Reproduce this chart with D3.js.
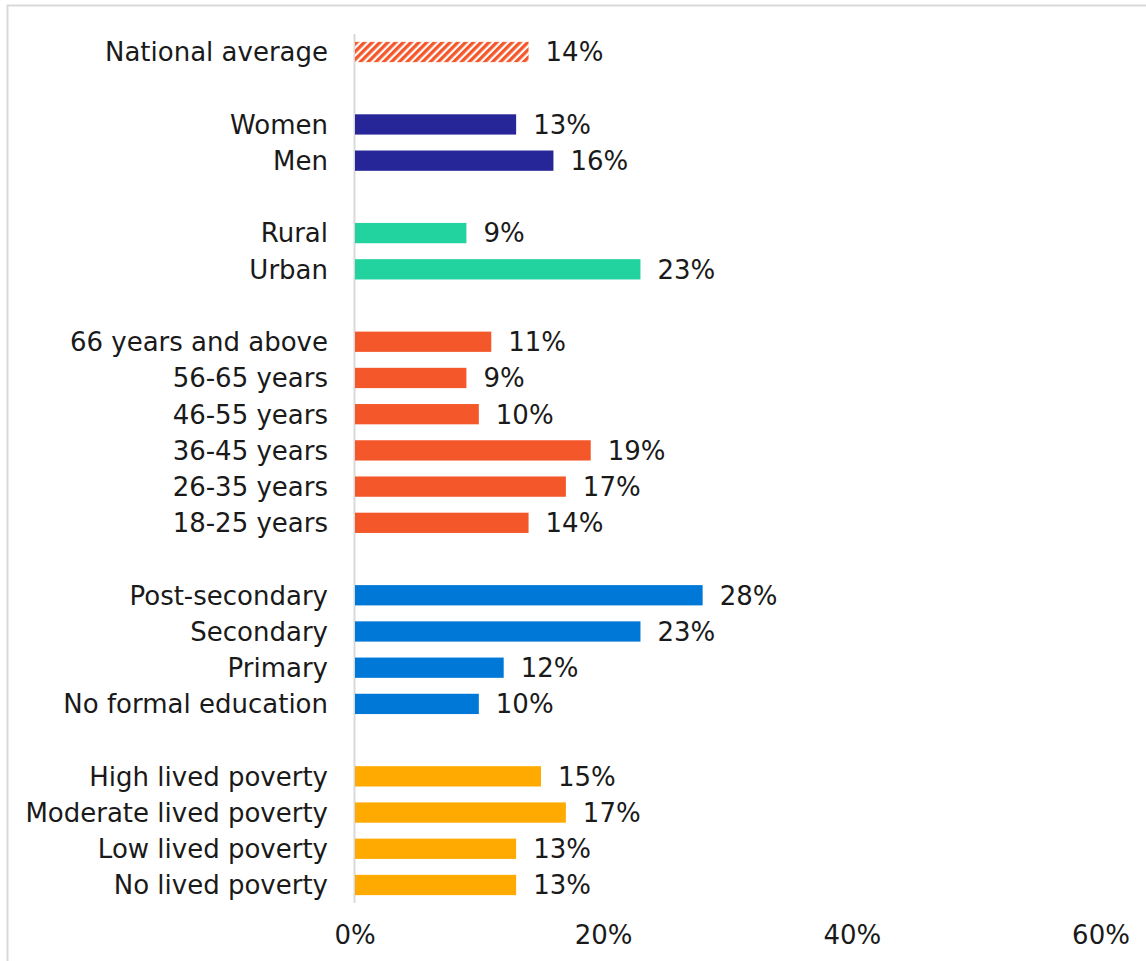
<!DOCTYPE html>
<html>
<head>
<meta charset="utf-8">
<script src="https://cdn.jsdelivr.net/npm/d3@7"></script>
<style>
  html, body { margin: 0; padding: 0; background: #ffffff; }
  svg { display: block; }
  text { font-family: "DejaVu Sans", sans-serif; fill: #1a1a1a; }
</style>
</head>
<body>
<svg id="chart" width="1146" height="961"></svg>
<script>
// Share of respondents, in percent, by group
const nationalCategories = ["National average"];
const nationalValues = [14];

const genderCategories = ["Women", "Men"];
const genderValues = [13, 16];

const locationCategories = ["Rural", "Urban"];
const locationValues = [9, 23];

const ageCategories = ["66 years and above", "56-65 years", "46-55 years", "36-45 years", "26-35 years", "18-25 years"];
const ageValues = [11, 9, 10, 19, 17, 14];

const educationCategories = ["Post-secondary", "Secondary", "Primary", "No formal education"];
const educationValues = [28, 23, 12, 10];

const povertyCategories = ["High lived poverty", "Moderate lived poverty", "Low lived poverty", "No lived poverty"];
const povertyValues = [15, 17, 13, 13];

const xTicks = [0, 20, 40, 60];
const xTickLabels = ["0%", "20%", "40%", "60%"];

// Groups in drawing order, each with its fill
const groups = [
  { key: "national", cats: nationalCategories, vals: nationalValues, fill: "url(#hatch)" },
  { key: "gender", cats: genderCategories, vals: genderValues, fill: "#262699" },
  { key: "location", cats: locationCategories, vals: locationValues, fill: "#22d3a0" },
  { key: "age", cats: ageCategories, vals: ageValues, fill: "#f4572a" },
  { key: "education", cats: educationCategories, vals: educationValues, fill: "#0078d7" },
  { key: "poverty", cats: povertyCategories, vals: povertyValues, fill: "#ffaa00" }
];

// Row list with an empty spacer row between groups
const rows = [];
const slots = [];
groups.forEach((g, gi) => {
  if (gi > 0) slots.push("spacer-" + gi);
  g.cats.forEach((c, i) => {
    rows.push({ category: c, value: g.vals[i], fill: g.fill });
    slots.push(c);
  });
});

const svg = d3.select("#chart");
const fontSize = 26;

// Diagonal hatch for the national average bar
const defs = svg.append("defs");
const pat = defs.append("pattern")
  .attr("id", "hatch")
  .attr("patternUnits", "userSpaceOnUse")
  .attr("width", 5.5).attr("height", 5.5)
  .attr("patternTransform", "rotate(45)");
pat.append("rect").attr("width", 5.5).attr("height", 5.5).attr("fill", "#ffffff");
pat.append("rect").attr("width", 3.3).attr("height", 5.5).attr("fill", "#f4572a");

// Outer frame
svg.append("rect")
  .attr("x", 7.5).attr("y", 5.5)
  .attr("width", 1146).attr("height", 960)
  .attr("fill", "none")
  .attr("stroke", "#d9d9d9")
  .attr("stroke-width", 2);

const x = d3.scaleLinear().domain([0, 60]).range([354.5, 1100.5]);
const y = d3.scaleBand()
  .domain(slots)
  .range([33.9, 903.1])
  .paddingInner(0.44)
  .paddingOuter(0.22);

// Vertical axis line at zero
svg.append("line")
  .attr("x1", x(0)).attr("x2", x(0))
  .attr("y1", y.range()[0]).attr("y2", y.range()[1])
  .attr("stroke", "#d9d9d9")
  .attr("stroke-width", 2);

// Bars
svg.append("g").selectAll("rect")
  .data(rows)
  .join("rect")
  .attr("x", x(0) + 0.5)
  .attr("y", d => y(d.category))
  .attr("width", d => x(d.value) - x(0) - 0.5)
  .attr("height", y.bandwidth())
  .attr("fill", d => d.fill);

// Value labels
svg.append("g").selectAll("text")
  .data(rows)
  .join("text")
  .attr("x", d => x(d.value) + 17)
  .attr("y", d => y(d.category) + y.bandwidth() / 2)
  .attr("dy", "0.36em")
  .attr("font-size", fontSize)
  .text(d => d.value + "%");

// Category labels
svg.append("g").selectAll("text")
  .data(rows)
  .join("text")
  .attr("x", 328)
  .attr("y", d => y(d.category) + y.bandwidth() / 2)
  .attr("dy", "0.36em")
  .attr("text-anchor", "end")
  .attr("font-size", fontSize)
  .text(d => d.category);

// Bottom tick labels
const xAxis = d3.axisBottom(x)
  .tickValues(xTicks)
  .tickFormat((d, i) => xTickLabels[i])
  .tickSize(0)
  .tickPadding(0);
const gx = svg.append("g")
  .attr("transform", "translate(0, 919)")
  .call(xAxis);
gx.select(".domain").remove();
gx.selectAll("text")
  .attr("font-size", fontSize)
  .attr("font-family", "DejaVu Sans, sans-serif")
  .attr("fill", "#1a1a1a")
  .attr("dy", "0.95em");
</script>
</body>
</html>
